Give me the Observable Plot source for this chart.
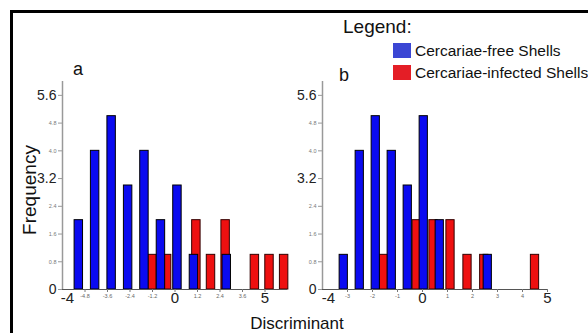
<!DOCTYPE html>
<html><head><meta charset="utf-8">
<script src="https://cdn.jsdelivr.net/npm/d3@7"></script>
<script src="https://cdn.jsdelivr.net/npm/@observablehq/plot@0.6"></script>
<style>
body{margin:0;background:#fff;}
#chart{position:relative;width:588px;height:333px;overflow:hidden;background:#fff;font-family:"Liberation Sans",Arial,sans-serif;}
#chart > svg{position:absolute;left:0;top:0;}
</style></head><body><div id="chart"></div>
<script>
// ---- Panel a data (bin centres in discriminant units, frequencies) ----
const freeA_x = [-5.13, -4.26, -3.38, -2.50, -1.63, -0.75, 0.13, 1.01, 2.76];
const freeA_n = [2, 4, 5, 3, 4, 2, 3, 1, 1];
const infA_x = [-1.20, -0.42, 1.14, 1.92, 2.70, 4.26, 5.04, 5.82];
const infA_n = [1, 1, 2, 1, 2, 1, 1, 1];
// ---- Panel b data ----
const freeB_x = [-3.15, -2.51, -1.87, -1.23, -0.59, 0.05, 0.69, 2.61];
const freeB_n = [1, 4, 5, 4, 3, 5, 2, 1];
const infB_x = [-1.55, -0.23, 0.44, 1.12, 1.80, 2.47, 4.50];
const infB_n = [1, 2, 2, 2, 1, 1, 1];
// ---- ticks / labels ----
const yDomain = [0, 6];
const ySmallTicks = [0.8, 1.6, 2.4, 4.0, 4.8];
const yBigTicks = [0, 3.2, 5.6];
const xDomainA = [-6, 6];
const xSmallTicksA = [-4.8, -3.6, -2.4, -1.2, 1.2, 2.4, 3.6];
const xBigTicksA = [0, 4.8];
const xBigLabelsA = ["0", "5"];
const xFirstTickA = -6, xFirstLabelA = "-4";
const xDomainB = [-4, 5];
const xSmallTicksB = [-3, -2, -1, 1, 2, 3, 4];
const xBigTicksB = [0, 5];
const xBigLabelsB = ["0", "5"];
const xFirstTickB = -4, xFirstLabelB = "-4";
const seriesNames = ["Cercariae-free Shells", "Cercariae-infected Shells"];

const BLUE = "#0a0af0", RED = "#ee1010";
const font = '"Liberation Sans", Arial, sans-serif';
const rows = (xs, ns) => xs.map((x, i) => ({x, n: ns[i]}));

function panel({freeX, freeN, infX, infN, domain, smallT, bigT, bigL, firstT, firstL, bw, ml, mr, firstDx}) {
  return Plot.plot({
    width: 588, height: 333,
    marginLeft: ml, marginRight: mr, marginTop: 81, marginBottom: 44,
    x: {domain, axis: null},
    y: {domain: yDomain, axis: null},
    style: {background: "transparent", fontFamily: font, overflow: "visible"},
    marks: [
      Plot.rectY(rows(infX, infN), {x1: d => d.x - bw / 2, x2: d => d.x + bw / 2, y1: 0, y2: "n", fill: RED, stroke: "#300", strokeWidth: 1}),
      Plot.rectY(rows(freeX, freeN), {x1: d => d.x - bw / 2, x2: d => d.x + bw / 2, y1: 0, y2: "n", fill: BLUE, stroke: "#000", strokeWidth: 1}),
      Plot.ruleX([domain[0]], {stroke: "#999", strokeWidth: 1.5}),
      Plot.ruleY([0], {stroke: "#555", strokeWidth: 1.2}),
      Plot.axisY(ySmallTicks, {tickFormat: d => d.toFixed(1), fontSize: 5.5, fill: "#777", stroke: "#999", tickSize: 4, tickPadding: 2, label: null}),
      Plot.axisY(yBigTicks, {tickFormat: d => d === 0 ? "0" : d.toFixed(1), fontSize: 14, fill: "#222", stroke: "#999", tickSize: 4, tickPadding: 2, label: null}),
      Plot.axisX(smallT, {tickFormat: d => String(Number.isInteger(d) ? d : d.toFixed(1)), fontSize: 5.5, fill: "#666", stroke: "#777", tickSize: 3, tickPadding: 2, label: null}),
      Plot.axisX(bigT, {tickFormat: d => bigL[bigT.indexOf(d)], fontSize: 15, fill: "#222", stroke: "#777", tickSize: 3, tickPadding: 0, label: null}),
      Plot.axisX([firstT], {tickFormat: () => firstL, fontSize: 15, fill: "#222", stroke: "#777", tickSize: 0, tickPadding: 3, dx: firstDx, label: null})
    ]
  });
}

const chart = document.getElementById("chart");
chart.append(panel({freeX: freeA_x, freeN: freeA_n, infX: infA_x, infN: infA_n, domain: xDomainA,
  smallT: xSmallTicksA, bigT: xBigTicksA, bigL: xBigLabelsA, firstT: xFirstTickA, firstL: xFirstLabelA,
  bw: 0.45, ml: 62, mr: 301, firstDx: 5}));
chart.append(panel({freeX: freeB_x, freeN: freeB_n, infX: infB_x, infN: infB_n, domain: xDomainB,
  smallT: xSmallTicksB, bigT: xBigTicksB, bigL: xBigLabelsB, firstT: xFirstTickB, firstL: xFirstLabelB,
  bw: 0.33, ml: 322, mr: 41, firstDx: 6}));

// overlay: frame, titles, legend
const svg = d3.select(chart).append("svg").attr("width", 588).attr("height", 333)
  .style("font-family", font);
svg.append("rect").attr("x", 11.5).attr("y", 11.5).attr("width", 700).attr("height", 500)
  .attr("fill", "none").attr("stroke", "#000").attr("stroke-width", 3);
svg.append("text").attr("x", 73).attr("y", 75).attr("font-size", 18).attr("fill", "#111").text("a");
svg.append("text").attr("x", 339).attr("y", 81).attr("font-size", 18).attr("fill", "#111").text("b");
svg.append("text").attr("transform", "translate(36,190) rotate(-90)").attr("text-anchor", "middle")
  .attr("font-size", 19).attr("fill", "#111").text("Frequency");
svg.append("text").attr("x", 297).attr("y", 329).attr("text-anchor", "middle")
  .attr("font-size", 17).attr("fill", "#111").text("Discriminant");
svg.append("text").attr("x", 343).attr("y", 33).attr("font-size", 19).attr("fill", "#111").text("Legend:");
const legCol = ["#3b46d4", "#e41e26"];
seriesNames.forEach((s, i) => {
  svg.append("rect").attr("x", 393).attr("y", 43 + i * 22).attr("width", 18).attr("height", 15).attr("fill", legCol[i]);
  svg.append("text").attr("x", 415).attr("y", 56 + i * 22).attr("font-size", 15.5).attr("fill", "#111").text(s);
});
</script></body></html>
